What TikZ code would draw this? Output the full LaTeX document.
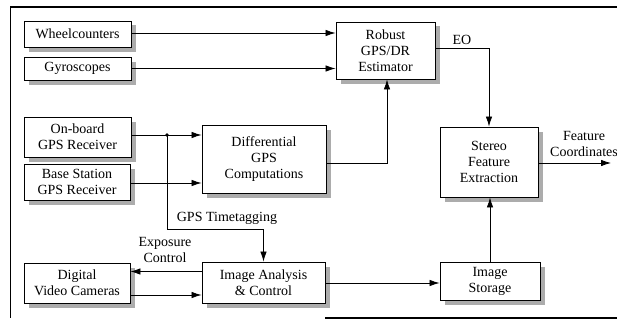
\documentclass[tikz,border=0pt]{standalone}
\usepackage{fontspec}
\setmainfont{Liberation Serif}
\usetikzlibrary{arrows.meta,shadows}
\begin{document}
\begin{tikzpicture}[x=1pt,y=-1pt,
  font=\fontsize{14}{16}\selectfont,
  blk/.style={draw=black, line width=0.9pt, fill=white, align=center, inner sep=0pt,
    drop shadow={shadow xshift=4.5pt, shadow yshift=-4.5pt, fill=gray!65, opacity=1}},
  arr/.style={line width=0.8pt, -{Latex[length=10pt,width=6.5pt]}},
  ln/.style={line width=0.8pt},
  lbl/.style={align=center, inner sep=0pt}]
\useasboundingbox (0,0) rectangle (617,321);
% frame
\draw[line width=1.4pt] (617,7) -- (10,7);
\draw[line width=0.6pt] (10,7) -- (10,318);
\draw[line width=1.2pt] (325,318) -- (617,318);
% blocks
\node[blk, minimum width=107pt, minimum height=26pt] (wheel) at (77.5,34) {Wheelcounters};
\node[blk, minimum width=107pt, minimum height=23pt] (gyro) at (77.5,68.5) {Gyroscopes};
\node[blk, minimum width=107pt, minimum height=40pt] (onb) at (77.5,137) {On-board\\GPS Receiver};
\node[blk, minimum width=106pt, minimum height=36pt] (base) at (77,182) {Base Station\\GPS Receiver};
\node[blk, minimum width=106pt, minimum height=40pt] (cam) at (77,283) {Digital\\Video Cameras};
\node[blk, minimum width=124pt, minimum height=68pt] (diff) at (264,159) {Differential\\GPS\\Computations};
\node[blk, minimum width=123pt, minimum height=41pt] (ian) at (263.5,282.5) {Image Analysis\\\& Control};
\node[blk, minimum width=99pt, minimum height=57pt] (rob) at (385.5,50.5) {Robust\\GPS/DR\\Estimator};
\node[blk, minimum width=98pt, minimum height=70pt] (ste) at (489,162) {Stereo\\Feature\\Extraction};
\node[blk, minimum width=100pt, minimum height=38pt] (sto) at (490,281) {Image\\Storage};
% connectors
\draw[arr] ([yshift=1pt]wheel.east) -- ([yshift=1pt]wheel.east -| rob.west);
\draw[arr] (gyro.east) -- (gyro.east -| rob.west);
\draw[arr] ([yshift=2pt]onb.east) coordinate (oe) -- (oe -| diff.west);
\coordinate (jn) at (167,135);
\fill (jn) circle (1.8pt);
\coordinate (bend) at (167,229);
\draw[ln] (jn) -- (bend);
\draw[arr] (bend) -| (ian.north);
\draw[arr] ([yshift=-1pt]base.east) coordinate (be) -- (be -| diff.west);
\draw[arr] ([yshift=-4pt]diff.east) -| ([xshift=1.5pt]rob.south);
\draw[arr] ([yshift=2.5pt]rob.east) -| (ste.north);
\coordinate (fc) at (611,163);
\draw[arr] ([yshift=-1pt]ste.east) -- (fc);
\draw[arr] (sto.north) -- (sto.north |- ste.south);
\draw[arr] ([yshift=11pt]ian.west) coordinate (iw) -- (iw -| cam.east);
\draw[arr] ([yshift=-12pt]cam.east) coordinate (ce) -- (ce -| ian.west);
\draw[arr] ([yshift=-0.5pt]ian.east) coordinate (ie) -- (ie -| sto.west);
% labels
\node[lbl] (eo) at (462,40) {EO};
\node[lbl] (gt) at (227,218) {GPS Timetagging};
\node[lbl] (ec) at (165,250) {Exposure\\Control};
\node[lbl] (fcl) at (584,144) {Feature\\Coordinates};
\end{tikzpicture}
\end{document}
